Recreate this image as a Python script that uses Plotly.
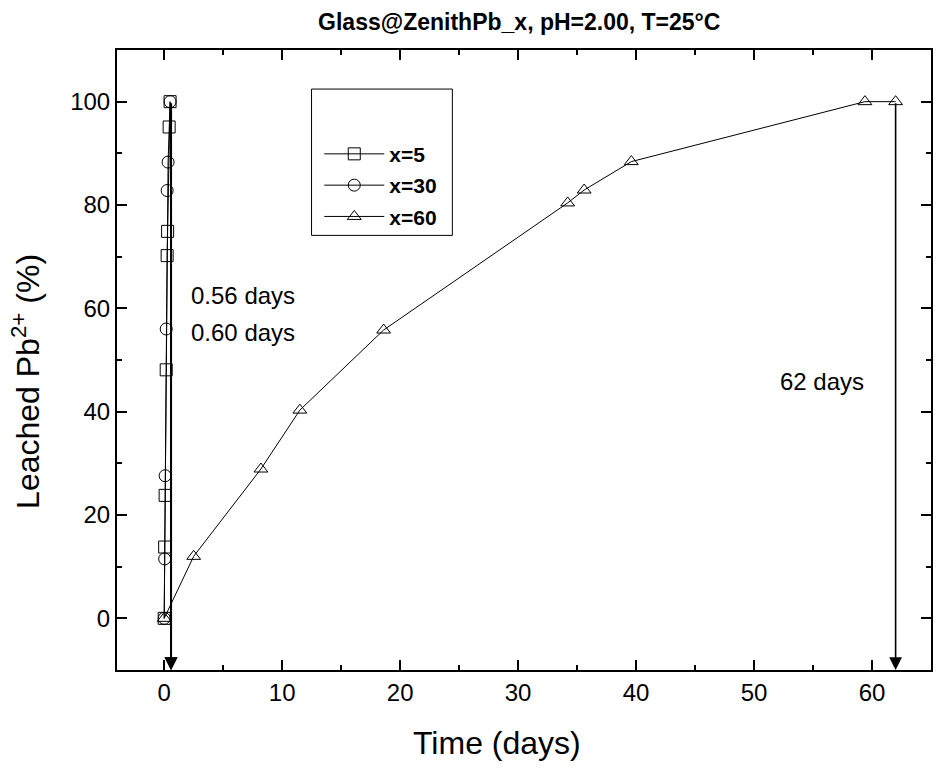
import plotly.graph_objects as go

# Leaching kinetics: time (days) vs leached Pb2+ (%)
t_x5 = [0.0, 0.04, 0.08, 0.17, 0.25, 0.29, 0.42, 0.50]
pb_x5 = [0.0, 13.8, 23.8, 48.1, 70.2, 74.9, 95.1, 100.0]

t_x30 = [0.0, 0.04, 0.08, 0.17, 0.25, 0.33, 0.50]
pb_x30 = [0.0, 11.5, 27.6, 56.0, 82.8, 88.3, 100.0]

t_x60 = [0.0, 2.5, 8.2, 11.5, 18.6, 34.2, 35.6, 39.6, 59.4, 62.0]
pb_x60 = [0.0, 12.0, 28.9, 40.3, 55.8, 80.4, 82.9, 88.4, 100.0, 100.0]

series_names = ["x=5", "x=30", "x=60"]
series_symbols = ["square-open", "circle-open", "triangle-up-open"]

# Complete-leaching times marked with arrows
done_times = [0.56, 0.60, 62.0]
done_labels = ["0.56 days", "0.60 days", "62 days"]

FONT = "Liberation Sans, Arial, sans-serif"

fig = go.Figure()
for name, sym, xs, ys in zip(series_names, series_symbols,
                             [t_x5, t_x30, t_x60], [pb_x5, pb_x30, pb_x60]):
    fig.add_trace(go.Scatter(
        x=xs, y=ys, name=name, mode="lines+markers", legendgroup=name,
        line=dict(color="black", width=1),
        marker=dict(symbol=sym, size=12, color="black",
                    line=dict(color="black", width=1)),
    ))

# Vertical arrows from 100 % down to the time axis
for t in done_times:
    fig.add_annotation(
        x=t, y=-10, ax=t, ay=100, xref="x", yref="y", axref="x", ayref="y",
        text="", showarrow=True, arrowhead=2, arrowsize=1.6, arrowwidth=1.6,
        arrowcolor="black", standoff=0, startstandoff=0,
    )

# Text labels for the completion times
label_pos = [(2.1, 62.4), (2.1, 55.4), (52.0, 45.9)]
for (lx, ly), txt in zip(label_pos, done_labels):
    fig.add_annotation(x=lx, y=ly, xref="x", yref="y", text=txt,
                       showarrow=False, xanchor="left", yanchor="middle",
                       font=dict(family=FONT, size=24, color="black"))

# Axis titles
fig.add_annotation(x=0.467, y=-0.118, xref="paper", yref="paper",
                   text="Time (days)", showarrow=False,
                   xanchor="center", yanchor="middle",
                   font=dict(family=FONT, size=32, color="black"))
fig.add_annotation(x=-0.112, y=0.466, xref="paper", yref="paper",
                   text="Leached Pb<sup>2+</sup> (%)", showarrow=False,
                   textangle=-90, xanchor="center", yanchor="middle",
                   font=dict(family=FONT, size=32, color="black"))

# Legend frame
fig.add_shape(type="rect", xref="paper", yref="paper",
              x0=0.239, x1=0.412, y0=0.701, y1=0.937,
              line=dict(color="black", width=1), fillcolor="rgba(0,0,0,0)")

axis_common = dict(
    showline=True, linecolor="black", linewidth=2, mirror="allticks",
    ticks="inside", ticklen=10, tickwidth=2, tickcolor="black",
    showgrid=False, zeroline=False,
    tickfont=dict(family=FONT, size=24, color="black"),
)

fig.update_layout(
    width=939, height=771,
    margin=dict(l=117, r=6, t=50, b=101),
    paper_bgcolor="white", plot_bgcolor="white",
    title=dict(text="<b>Glass@ZenithPb_x, pH=2.00, T=25°C</b>",
               x=0.553, xanchor="center", y=0.972, yanchor="middle",
               font=dict(family=FONT, size=23, color="black")),
    xaxis=dict(range=[-4, 65], tickvals=[0, 10, 20, 30, 40, 50, 60],
               minor=dict(dtick=5, tick0=0, ticks="inside", ticklen=5,
                          tickwidth=2, tickcolor="black"),
               **axis_common),
    yaxis=dict(range=[-10, 110], tickvals=[0, 20, 40, 60, 80, 100],
               minor=dict(dtick=10, tick0=0, ticks="inside", ticklen=5,
                          tickwidth=2, tickcolor="black"),
               **axis_common),
    legend=dict(x=0.2485, y=0.865, xanchor="left", yanchor="top",
                bgcolor="rgba(0,0,0,0)", borderwidth=0,
                font=dict(family=FONT, size=21, color="black", weight="bold"),
                itemwidth=60, tracegroupgap=1),
    showlegend=True,
)

fig.write_html("out.html")
